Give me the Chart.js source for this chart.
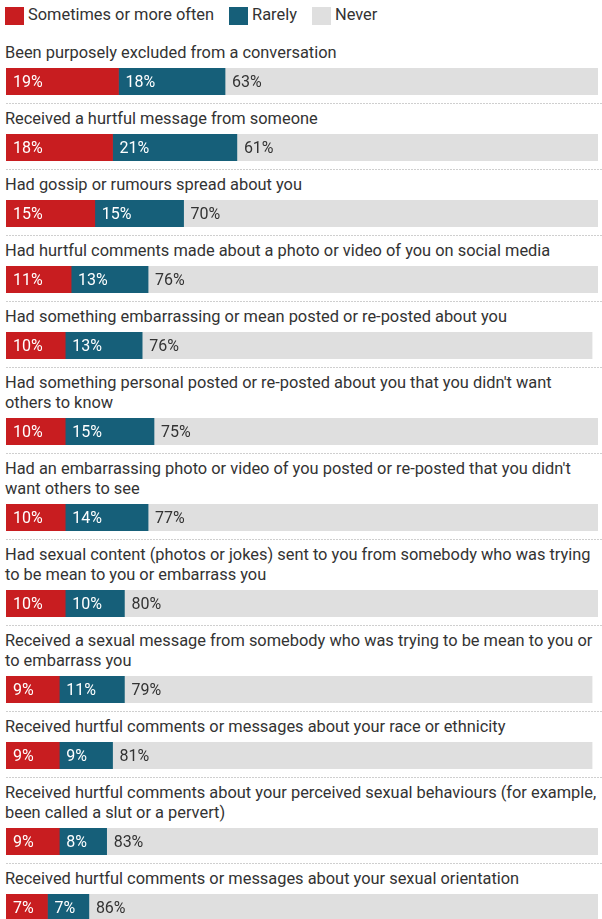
<!DOCTYPE html>
<html>
<head>
<meta charset="utf-8">
<script src="https://cdn.jsdelivr.net/npm/chart.js@4/dist/chart.umd.min.js"></script>
<style>
  html, body { margin: 0; padding: 0; background: #fff; }
  body { width: 602px; height: 919px; overflow: hidden; font-family: Roboto, "Noto Sans", sans-serif; color: #333; }
  .legend { display: flex; height: 20px; padding: 5px 0 0 5px; margin-bottom: 13px; font-size: 16.4px; line-height: 20px; }
  .legend .item { display: flex; align-items: flex-start; margin-right: 15px; }
  .legend .box { width: 19px; height: 18px; margin-top: 2px; margin-right: 4px; }
  .row { padding-top: 5px; }
  .label { margin-left: 5px; font-size: 16.4px; line-height: 20px; white-space: pre; }
  .bar { margin: 5px 0 8px 6px; height: 27px; }
  .bar canvas { display: block; }
  .sep { height: 1px; margin-left: 6px; background: repeating-linear-gradient(to right, #cfcfcf 0 2px, transparent 2px 3px); }
</style>
</head>
<body>
<div class="legend" id="legend"></div>
<div id="rows"></div>
<script>
const categories = [
  "Been purposely excluded from a conversation",
  "Received a hurtful message from someone",
  "Had gossip or rumours spread about you",
  "Had hurtful comments made about a photo or video of you on social media",
  "Had something embarrassing or mean posted or re-posted about you",
  "Had something personal posted or re-posted about you that you didn't want\nothers to know",
  "Had an embarrassing photo or video of you posted or re-posted that you didn't\nwant others to see",
  "Had sexual content (photos or jokes) sent to you from somebody who was trying\nto be mean to you or embarrass you",
  "Received a sexual message from somebody who was trying to be mean to you or\nto embarrass you",
  "Received hurtful comments or messages about your race or ethnicity",
  "Received hurtful comments about your perceived sexual behaviours (for example,\nbeen called a slut or a pervert)",
  "Received hurtful comments or messages about your sexual orientation"
];
const seriesNames = ["Sometimes or more often", "Rarely", "Never"];
const sometimes = [19, 18, 15, 11, 10, 10, 10, 10, 9, 9, 9, 7];
const rarely    = [18, 21, 15, 13, 13, 15, 14, 10, 11, 9, 8, 7];
const never     = [63, 61, 70, 76, 76, 75, 77, 80, 79, 81, 83, 86];

const seriesValues = [sometimes, rarely, never];
const fills = ["#c81d20", "#165f79", "#dfdfdf"];
const valueColors = ["#ffffff", "#ffffff", "#333333"];

// legend
const legend = document.getElementById("legend");
seriesNames.forEach((name, i) => {
  const item = document.createElement("div");
  item.className = "item";
  const box = document.createElement("div");
  box.className = "box";
  box.style.background = fills[i];
  const txt = document.createElement("span");
  txt.textContent = name;
  item.appendChild(box);
  item.appendChild(txt);
  legend.appendChild(item);
});

// percentage labels at the left of each segment
const valueLabels = {
  id: "valueLabels",
  afterDatasetsDraw(chart) {
    const ctx = chart.ctx;
    ctx.save();
    ctx.font = "16px Roboto, 'Noto Sans', sans-serif";
    ctx.textBaseline = "middle";
    ctx.textAlign = "left";
    chart.data.datasets.forEach((ds, di) => {
      const meta = chart.getDatasetMeta(di);
      meta.data.forEach((el, j) => {
        const left = Math.min(el.x, el.base);
        ctx.fillStyle = valueColors[di];
        ctx.fillText(ds.data[j] + "%", left + 7, el.y + 1);
      });
    });
    ctx.restore();
  }
};

const rows = document.getElementById("rows");
categories.forEach((cat, idx) => {
  const row = document.createElement("div");
  row.className = "row";
  const label = document.createElement("div");
  label.className = "label";
  label.textContent = cat;
  const barWrap = document.createElement("div");
  barWrap.className = "bar";
  const canvas = document.createElement("canvas");
  canvas.width = 592;
  canvas.height = 27;
  barWrap.appendChild(canvas);
  row.appendChild(label);
  row.appendChild(barWrap);
  rows.appendChild(row);
  if (idx < categories.length - 1) {
    const sep = document.createElement("div");
    sep.className = "sep";
    rows.appendChild(sep);
  }

  new Chart(canvas, {
    type: "bar",
    data: {
      labels: [cat],
      datasets: seriesNames.map((name, si) => ({
        label: name,
        data: [seriesValues[si][idx]],
        backgroundColor: fills[si],
        borderWidth: 0,
        barPercentage: 1,
        categoryPercentage: 1
      }))
    },
    options: {
      indexAxis: "y",
      responsive: false,
      animation: false,
      devicePixelRatio: 1,
      layout: { padding: 0 },
      scales: {
        x: { stacked: true, min: 0, max: 100, display: false },
        y: { stacked: true, display: false }
      },
      plugins: {
        legend: { display: false },
        tooltip: { enabled: false }
      }
    },
    plugins: [valueLabels]
  });
});
</script>
</body>
</html>
